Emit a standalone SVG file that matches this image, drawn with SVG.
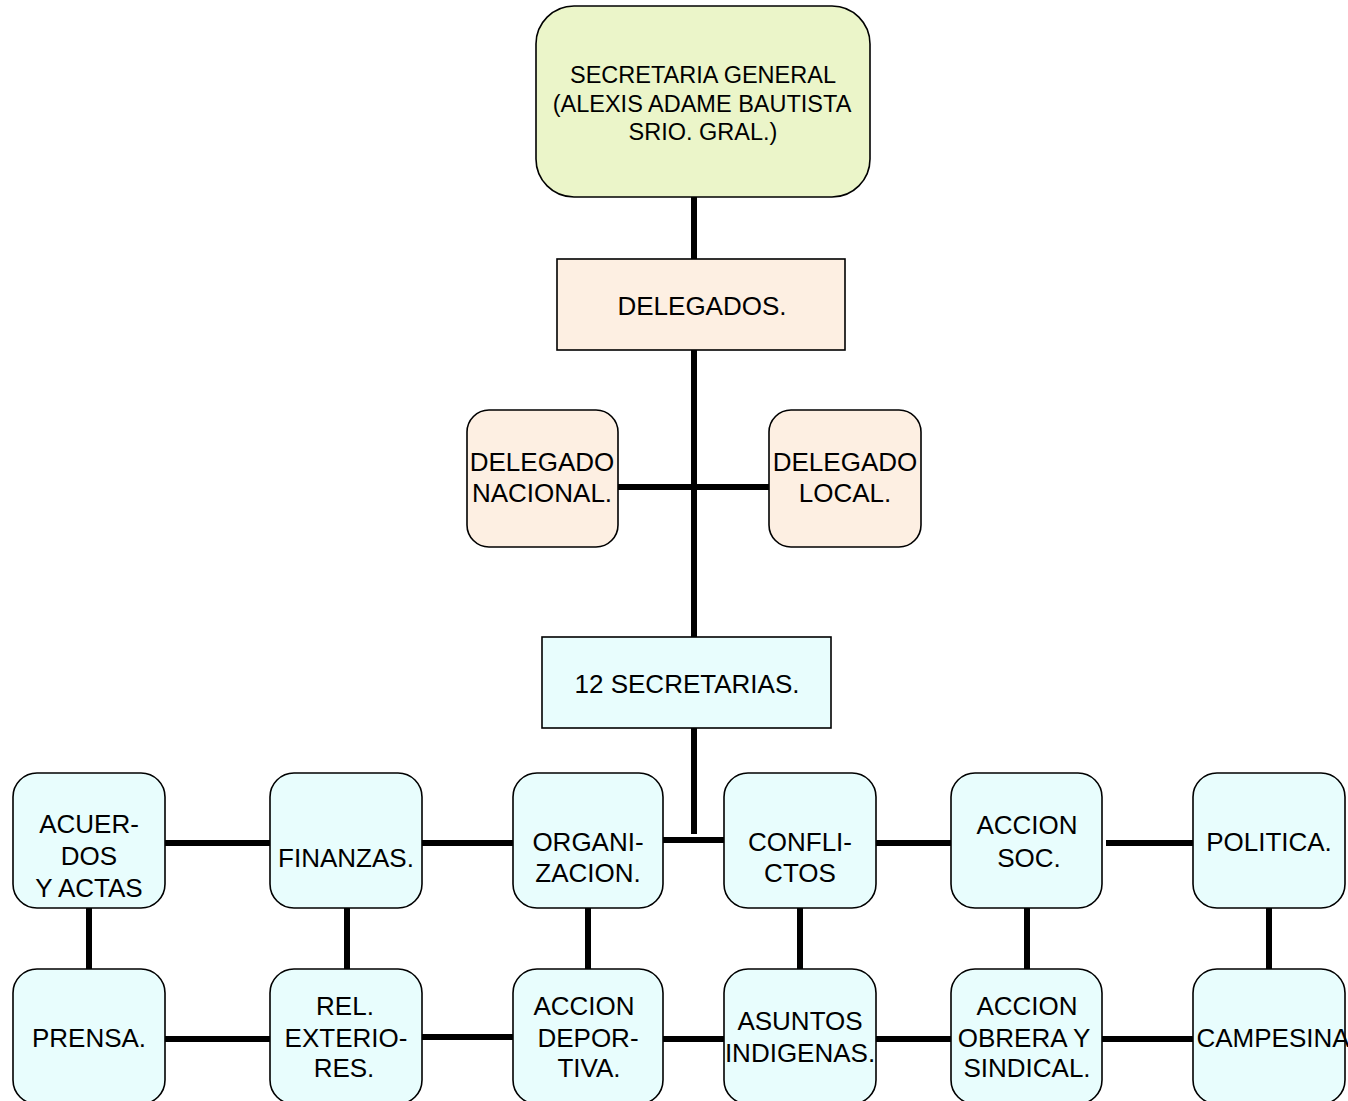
<svg xmlns="http://www.w3.org/2000/svg" width="1348" height="1101" viewBox="0 0 1348 1101">
<style>
.box{stroke:#000;stroke-width:1.6}
.g{fill:#ebf5c9}
.p{fill:#fdefe2}
.c{fill:#e8fdfd}
.ln{stroke:#000;stroke-width:6;fill:none}
text{font-family:"Liberation Sans",Arial,sans-serif;font-size:26px;fill:#000;text-anchor:middle}
.t23{font-size:23.5px}
</style>
<rect width="1348" height="1101" fill="#fff"/>
<g id="connectors">
<line class="ln" x1="694" y1="197" x2="694" y2="259"/>
<line class="ln" x1="694" y1="350" x2="694" y2="637"/>
<line class="ln" x1="618" y1="487" x2="769" y2="487"/>
<line class="ln" x1="694" y1="728" x2="694" y2="834"/>
<line class="ln" x1="165" y1="843" x2="270" y2="843"/>
<line class="ln" x1="422" y1="843" x2="513" y2="843"/>
<line class="ln" x1="663" y1="840" x2="724" y2="840"/>
<line class="ln" x1="876" y1="843" x2="951" y2="843"/>
<line class="ln" x1="1106" y1="843" x2="1193" y2="843"/>
<line class="ln" x1="165" y1="1039" x2="270" y2="1039"/>
<line class="ln" x1="422" y1="1037" x2="513" y2="1037"/>
<line class="ln" x1="663" y1="1039" x2="724" y2="1039"/>
<line class="ln" x1="876" y1="1039" x2="951" y2="1039"/>
<line class="ln" x1="1102" y1="1039" x2="1193" y2="1039"/>
<line class="ln" x1="89" y1="908" x2="89" y2="969"/>
<line class="ln" x1="347" y1="908" x2="347" y2="969"/>
<line class="ln" x1="588" y1="908" x2="588" y2="969"/>
<line class="ln" x1="800" y1="908" x2="800" y2="969"/>
<line class="ln" x1="1027" y1="908" x2="1027" y2="969"/>
<line class="ln" x1="1269" y1="908" x2="1269" y2="969"/>
</g>
<g id="n-secretaria-general">
<rect class="box g" x="536" y="6" width="334" height="191" rx="38"/>
<text class="t23" x="703" y="83">SECRETARIA GENERAL</text>
<text class="t23" x="702" y="112">(ALEXIS ADAME BAUTISTA</text>
<text class="t23" x="703" y="140">SRIO. GRAL.)</text>
</g>
<g id="n-delegados">
<rect class="box p" x="557" y="259" width="288" height="91"/>
<text x="702" y="315">DELEGADOS.</text>
</g>
<g id="n-delegado-nacional">
<rect class="box p" x="467" y="410" width="151" height="137" rx="22"/>
<text x="542" y="471">DELEGADO</text>
<text x="542" y="502">NACIONAL.</text>
</g>
<g id="n-delegado-local">
<rect class="box p" x="769" y="410" width="152" height="137" rx="22"/>
<text x="845" y="471">DELEGADO</text>
<text x="845" y="502">LOCAL.</text>
</g>
<g id="n-12-secretarias">
<rect class="box c" x="542" y="637" width="289" height="91"/>
<text x="687" y="693">12 SECRETARIAS.</text>
</g>
<g id="n-acuerdos">
<rect class="box c" x="13" y="773" width="152" height="135" rx="24"/>
<text x="89" y="833">ACUER-</text>
<text x="89" y="865">DOS</text>
<text x="89" y="897">Y ACTAS</text>
</g>
<g id="n-finanzas">
<rect class="box c" x="270" y="773" width="152" height="135" rx="24"/>
<text x="346" y="867">FINANZAS.</text>
</g>
<g id="n-organizacion">
<rect class="box c" x="513" y="773" width="150" height="135" rx="24"/>
<text x="588" y="851">ORGANI-</text>
<text x="588" y="882">ZACION.</text>
</g>
<g id="n-conflictos">
<rect class="box c" x="724" y="773" width="152" height="135" rx="24"/>
<text x="800" y="851">CONFLI-</text>
<text x="800" y="882">CTOS</text>
</g>
<g id="n-accion-soc">
<rect class="box c" x="951" y="773" width="151" height="135" rx="24"/>
<text x="1027" y="834">ACCION</text>
<text x="1029" y="867">SOC.</text>
</g>
<g id="n-politica">
<rect class="box c" x="1193" y="773" width="152" height="135" rx="24"/>
<text x="1269" y="851">POLITICA.</text>
</g>
<g id="n-prensa">
<rect class="box c" x="13" y="969" width="152" height="135" rx="24"/>
<text x="89" y="1047">PRENSA.</text>
</g>
<g id="n-rel-exteriores">
<rect class="box c" x="270" y="969" width="152" height="135" rx="24"/>
<text x="345" y="1015">REL.</text>
<text x="346" y="1047">EXTERIO-</text>
<text x="344" y="1077">RES.</text>
</g>
<g id="n-accion-deportiva">
<rect class="box c" x="513" y="969" width="150" height="135" rx="24"/>
<text x="584" y="1015">ACCION</text>
<text x="588" y="1047">DEPOR-</text>
<text x="589" y="1077">TIVA.</text>
</g>
<g id="n-asuntos-indigenas">
<rect class="box c" x="724" y="969" width="152" height="135" rx="24"/>
<text x="800" y="1030">ASUNTOS</text>
<text x="800" y="1062">INDIGENAS.</text>
</g>
<g id="n-accion-obrera">
<rect class="box c" x="951" y="969" width="151" height="135" rx="24"/>
<text x="1027" y="1015">ACCION</text>
<text x="1024" y="1047">OBRERA Y</text>
<text x="1027" y="1077">SINDICAL.</text>
</g>
<g id="n-campesina">
<rect class="box c" x="1193" y="969" width="152" height="135" rx="24"/>
<text x="1273" y="1047">CAMPESINA</text>
</g>
</svg>
